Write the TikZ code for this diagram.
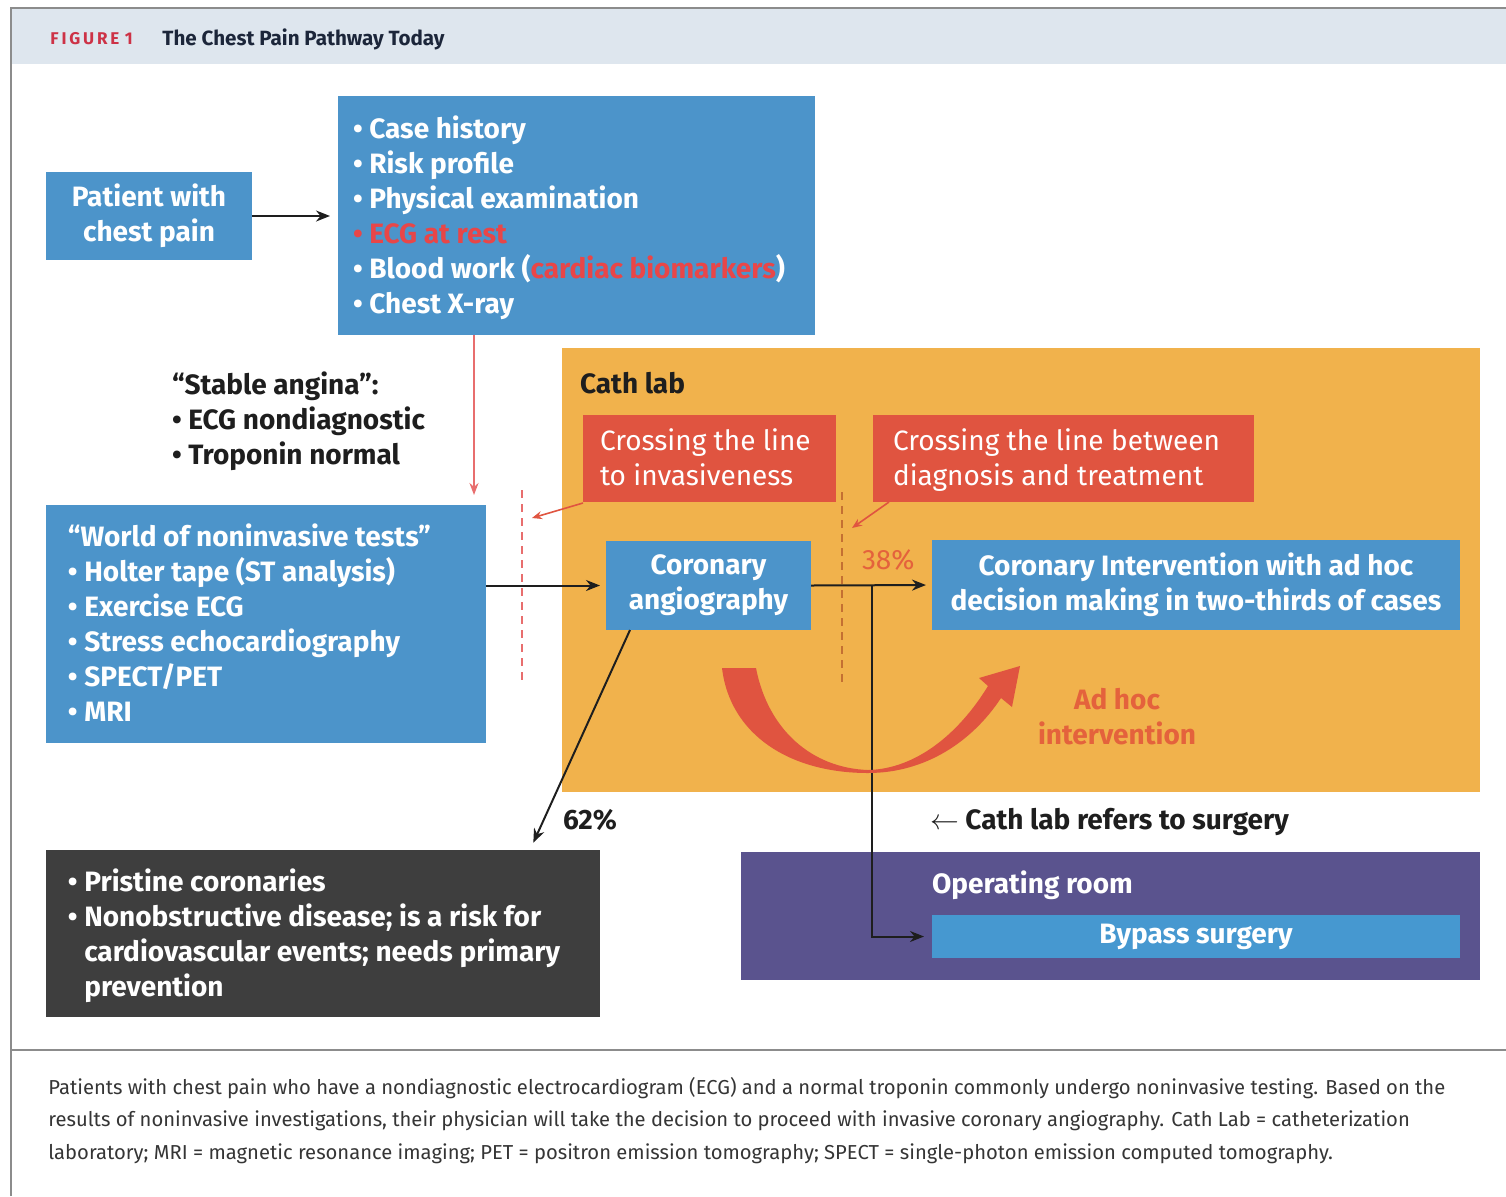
\documentclass[tikz,border=0pt]{standalone}
\usepackage{fontspec}
\setmainfont{Fira Sans}
\usetikzlibrary{arrows.meta,calc}
\definecolor{cblue}{RGB}{76,148,202}
\definecolor{cblue2}{RGB}{70,152,208}
\definecolor{corange}{RGB}{241,178,76}
\definecolor{cred}{RGB}{224,84,64}
\definecolor{credtxt}{RGB}{232,70,72}
\definecolor{cpurple}{RGB}{90,83,142}
\definecolor{cdark}{RGB}{62,62,62}
\definecolor{ctxt}{RGB}{30,30,30}
\definecolor{chdr}{RGB}{222,230,238}
\definecolor{cnavy}{RGB}{28,38,58}
\definecolor{cfig}{RGB}{205,50,70}
\definecolor{cpct}{RGB}{228,98,60}
\definecolor{cpink}{RGB}{232,110,110}
\definecolor{cbrown}{RGB}{196,112,50}
\definecolor{cframe}{RGB}{140,140,140}
\newcommand{\boxfont}{\fontsize{14}{17.5}\selectfont}
\newcommand{\capfont}{\fontsize{10.1}{16.5}\selectfont}
\tikzset{
  bx/.style={inner sep=0pt, outer sep=0pt, anchor=north west, draw=none},
  tx/.style={inner sep=0pt, outer sep=0pt, align=left, font=\boxfont\bfseries},
  wt/.style={tx, text=white},
  dk/.style={tx, text=ctxt},
  arr/.style={line width=1pt, draw=ctxt, -{Stealth[length=7pt,width=5.5pt]}},
  rarr/.style={line width=0.8pt, draw=cred, -{Stealth[length=5pt,width=4pt]}},
}
\begin{document}
\begin{tikzpicture}[x=0.5pt,y=-0.5pt]
\useasboundingbox (0,0) rectangle (1506,1196);
% frame and header
\fill[white] (0,0) rectangle (1506,1196);
\fill[chdr] (12,9) rectangle (1506,64);
\draw[cframe, line width=1pt] (11,1196) -- (11,8) -- (1506,8);
\draw[cframe, line width=1pt] (11,1050) -- (1506,1050);
\node[inner sep=0pt, anchor=west, text=cfig, font=\fontsize{8.5}{10}\selectfont\bfseries] (figlbl) at (50,39) {F\,I\,G\,U\,R\,E\,\,1};
\node[inner sep=0pt, anchor=west, text=cnavy, font=\fontsize{10.3}{12}\selectfont\bfseries] (figttl) at (162,39) {The Chest Pain Pathway Today};

% boxes
\node[bx, fill=corange, minimum width=459pt, minimum height=222pt] (cath) at (562,348) {};
\node[bx, fill=cblue, minimum width=103pt, minimum height=44pt] (patient) at (46,172) {};
\node[bx, fill=cblue, minimum width=238.5pt, minimum height=119.5pt] (top) at (338,96) {};
\node[bx, fill=cblue, minimum width=220pt, minimum height=119pt] (noninv) at (46,505) {};
\node[bx, fill=cred, minimum width=126.5pt, minimum height=43.5pt] (red1) at (583,415) {};
\node[bx, fill=cred, minimum width=190.5pt, minimum height=43.5pt] (red2) at (873,415) {};
\node[bx, fill=cblue, minimum width=102.5pt, minimum height=44.5pt] (coro) at (606,541) {};
\node[bx, fill=cblue, minimum width=264pt, minimum height=45pt] (interv) at (932,540) {};
\node[bx, fill=cdark, minimum width=277pt, minimum height=83.5pt] (dark) at (46,850) {};
\node[bx, fill=cpurple, minimum width=369.5pt, minimum height=64pt] (oproom) at (741,852) {};
\node[bx, fill=cblue2, minimum width=264pt, minimum height=21.5pt] (bypass) at (932,915) {};

% texts
\node[wt, align=center] (patienttxt) at (patient.center) {Patient with\\chest pain};
\node[wt, anchor=north west] (toptxt) at (353,116) {\textbullet\ Case history\\
\textbullet\ Risk profile\\
\textbullet\ Physical examination\\
\textcolor{credtxt}{\textbullet\ ECG at rest}\\
\textbullet\ Blood work (\textcolor{credtxt}{cardiac biomarkers})\\
\textbullet\ Chest X-ray};
\node[dk, anchor=north west] (stable) at (172,372) {``Stable angina'':\\
\textbullet\ ECG nondiagnostic\\
\textbullet\ Troponin normal};
\node[wt, anchor=north west] (noninvtxt) at (68,524) {``World of noninvasive tests''\\
\textbullet\ Holter tape (ST analysis)\\
\textbullet\ Exercise ECG\\
\textbullet\ Stress echocardiography\\
\textbullet\ SPECT/PET\\
\textbullet\ MRI};
\node[dk, anchor=west] (cathlbl) at (580,383) {Cath lab};
\node[tx, text=white, font=\boxfont, anchor=north west] (red1txt) at (600,429) {Crossing the line\\to invasiveness};
\node[tx, text=white, font=\boxfont, anchor=north west] (red2txt) at (893,429) {Crossing the line between\\diagnosis and treatment};
\node[wt, align=center] (corotxt) at (coro.center) {Coronary\\angiography};
\node[wt, align=center] (intervtxt) at (interv.center) {Coronary Intervention with ad hoc\\decision making in two-thirds of cases};
\node[tx, text=cpct, align=center] (adhoc) at (1117,717) {Ad hoc\\intervention};
\node[tx, text=cpct, font=\boxfont, anchor=west] (p38) at (862,560) {38\%};
\node[dk, anchor=west] (p62) at (563,820) {62\%};
\node[dk, anchor=west] (refers) at (930,822) {$\leftarrow$ Cath lab refers to surgery};
\node[wt, anchor=west] (oplbl) at (932,885) {Operating room};
\node[wt] (bypasstxt) at (bypass.center) {Bypass surgery};
\node[wt, anchor=north west] (darktxt) at (68,869) {\textbullet\ Pristine coronaries\\
\textbullet\ Nonobstructive disease; is a risk for\\
\phantom{\textbullet\ }cardiovascular events; needs primary\\
\phantom{\textbullet\ }prevention};

% caption
\node[inner sep=0pt, anchor=west, text=ctxt!90, font=\capfont] (cap1) at (48,1088) {Patients with chest pain who have a nondiagnostic electrocardiogram (ECG) and a normal troponin commonly undergo noninvasive testing. Based on the};
\node[inner sep=0pt, anchor=west, text=ctxt!90, font=\capfont] (cap2) at (48,1121) {results of noninvasive investigations, their physician will take the decision to proceed with invasive coronary angiography. Cath Lab = catheterization};
\node[inner sep=0pt, anchor=west, text=ctxt!90, font=\capfont] (cap3) at (48,1154) {laboratory; MRI = magnetic resonance imaging; PET = positron emission tomography; SPECT = single-photon emission computed tomography.};

% dashed lines
\coordinate (d1top) at (522,490);
\coordinate (d1bot) at (522,682);
\coordinate (d2top) at (842,492);
\coordinate (d2bot) at (842,682);
\draw[cpink, line width=1.3pt, dash pattern=on 4pt off 3pt] (d1top) -- (d1bot);
\draw[cbrown, line width=0.8pt, dash pattern=on 4pt off 3pt] (d2top) -- (d2bot);

% connectors
\draw[arr, shorten >=4pt] (patient.east) -- (top.west |- patient.east);
\draw[line width=1pt, draw=cpink, -{Stealth[length=6pt,width=4.5pt]}, shorten >=5pt] ([xshift=68pt]top.south west) -- ([xshift=214pt]noninv.north west);
\draw[arr, shorten >=3pt] (noninv.east |- coro.west) -- (coro.west);
\draw[arr, shorten >=3pt] (coro.east) -- (interv.west);
\coordinate (br) at ($(coro.east)!0.5!(interv.west)$);
\draw[arr, shorten >=4pt] (br) |- (bypass.west);
\draw[arr, shorten >=4pt] ([xshift=12pt]coro.south west) -- ([xshift=242pt]dark.north west);
\draw[rarr] ([yshift=-0.5pt]red1.south west) -- ([xshift=5pt,yshift=-14pt]d1top);
\draw[rarr] ([xshift=8pt]red2.south west) -- ([xshift=5pt,yshift=-18pt]d2top);

% curved ad hoc arrow
\fill[cred] (722,668) .. controls (730,735) and (790,773) .. (868,773)
  .. controls (925,773) and (972,742) .. (1001,698)
  -- (1012,707) -- (1020,666) -- (979,678) -- (988,686)
  .. controls (958,735) and (915,769) .. (868,770)
  .. controls (812,768) and (768,730) .. (756,668) -- cycle;
\end{tikzpicture}
\end{document}
